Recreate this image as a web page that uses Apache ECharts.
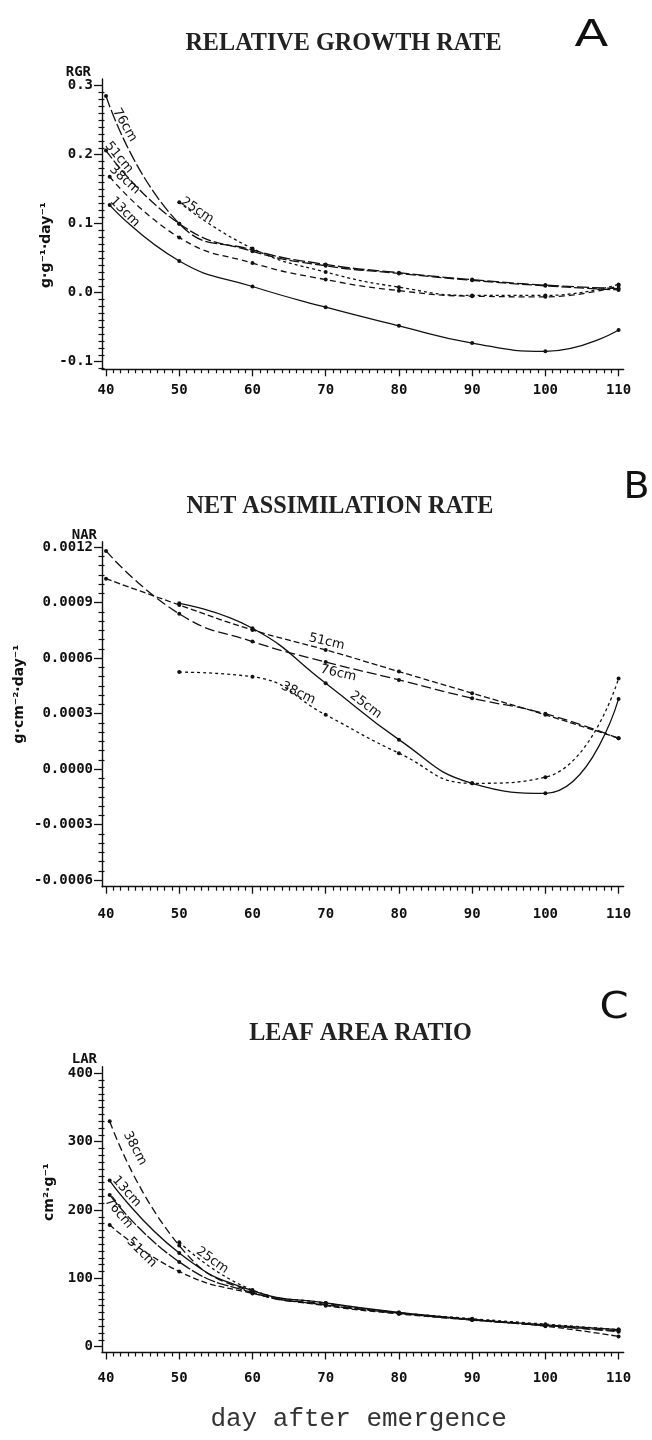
<!DOCTYPE html>
<html><head><meta charset="utf-8">
<script src="https://cdn.jsdelivr.net/npm/echarts@6/dist/echarts.min.js"></script>
<style>html,body{margin:0;padding:0;background:#fff}#c{width:652px;height:1440px}</style>
</head><body><div id="c"></div>
<script>
// ---------- data ----------
const seriesNames = ['13cm', '25cm', '38cm', '51cm', '76cm'];
const dayTicks = [40, 50, 60, 70, 80, 90, 100, 110];
const daysFrom40 = [40, 50, 60, 70, 80, 90, 100, 110];
const daysFrom405 = [40.5, 50, 60, 70, 80, 90, 100, 110];
const daysFrom50 = [50, 60, 70, 80, 90, 100, 110];

// A: relative growth rate
const rgrTicks = [-0.1, 0, 0.1, 0.2, 0.3];
const rgr13 = [0.127, 0.046, 0.009, -0.021, -0.048, -0.073, -0.085, -0.054];
const rgr25 = [0.131, 0.064, 0.030, 0.008, -0.004, -0.004, 0.012];
const rgr38 = [0.168, 0.080, 0.043, 0.019, 0.003, -0.005, -0.006, 0.010];
const rgr51 = [0.206, 0.100, 0.060, 0.039, 0.028, 0.018, 0.010, 0.004];
const rgr76 = [0.285, 0.100, 0.062, 0.041, 0.029, 0.019, 0.011, 0.006];

// B: net assimilation rate
const narTicks = [-0.0006, -0.0003, 0, 0.0003, 0.0006, 0.0009, 0.0012];
const nar25 = [0.000897, 0.000762, 0.000465, 0.00016, -0.000076, -0.00013, 0.00038];
const nar38 = [0.000525, 0.0005, 0.000294, 0.000087, -0.000076, -0.000043, 0.00049];
const nar51 = [0.00103, 0.000888, 0.000753, 0.000645, 0.000528, 0.000411, 0.000294, 0.000168];
const nar76 = [0.00118, 0.00084, 0.00069, 0.00058, 0.000483, 0.000384, 0.0003, 0.000167];

// C: leaf area ratio
const larTicks = [0, 100, 200, 300, 400];
const lar13 = [243, 137, 82, 64, 50, 40, 32, 25];
const lar25 = [153, 83, 64, 50, 41, 33, 25];
const lar38 = [330, 148, 80, 62, 49, 40, 31, 22];
const lar51 = [178, 110, 78, 60, 48, 39, 30, 15];
const lar76 = [222, 124, 79, 61, 49, 39, 31, 23];

// ---------- minor tick positions (axis decoration) ----------
const dayMinor = []; for (let d = 40; d <= 110; d++) if (d % 10) dayMinor.push(d);
const rgrMinor = []; for (let k = -11; k <= 30; k++) if (k % 10) rgrMinor.push(k / 100);
const narMinor = []; for (let k = -12; k <= 24; k++) if (k % 6) narMinor.push(+(k * 0.00005).toFixed(6));
const larMinor = []; for (let k = 0; k <= 40; k++) if (k % 10) larMinor.push(k * 10);

// ---------- styles / layout ----------
const INK = '#111';
const tickFont = {fontFamily: '"DejaVu Sans Mono"', fontWeight: 'bold', fontSize: 14, color: INK};
const panels = [
  {grid: {left: 102, right: 28.3, top: 79, height: 290.3}, ymin: -0.111, ymax: 0.3097,
   ticks: rgrTicks, minor: rgrMinor, fmt: v => v.toFixed(1), xMargin: 14, yMargin: 9},
  {grid: {left: 102, right: 28.3, top: 541.7, height: 345}, ymin: -0.000635, ymax: 0.00123,
   ticks: narTicks, minor: narMinor, fmt: v => v.toFixed(4), xMargin: 21, yMargin: 9},
  {grid: {left: 102, right: 28.3, top: 1066.7, height: 285.8}, ymin: -8.5, ymax: 409.7,
   ticks: larTicks, minor: larMinor, fmt: v => String(v), xMargin: 19, yMargin: 9}
];
const XMIN = 39.45, XMAX = 110.7;

const grids = [], xAxes = [], yAxes = [];
panels.forEach((p, i) => {
  grids.push(p.grid);
  xAxes.push({type: 'value', gridIndex: i, position: 'bottom', min: XMIN, max: XMAX,
    axisLine: {show: true, onZero: false, lineStyle: {color: INK, width: 1.4}},
    axisTick: {show: true, customValues: dayTicks, length: 7, lineStyle: {color: INK, width: 1.3}},
    axisLabel: {show: true, customValues: dayTicks, margin: p.xMargin, ...tickFont},
    splitLine: {show: false}});
  xAxes.push({type: 'value', gridIndex: i, position: 'bottom', min: XMIN, max: XMAX,
    axisLine: {show: false, onZero: false},
    axisTick: {show: true, customValues: dayMinor, length: 4, lineStyle: {color: INK, width: 1.2}},
    axisLabel: {show: false}, splitLine: {show: false}});
  yAxes.push({type: 'value', gridIndex: i, position: 'left', min: p.ymin, max: p.ymax,
    axisLine: {show: true, onZero: false, lineStyle: {color: INK, width: 1.4}},
    axisTick: {show: true, customValues: p.ticks, length: 8, lineStyle: {color: INK, width: 1.3}},
    axisLabel: {show: true, customValues: p.ticks, formatter: p.fmt, margin: p.yMargin, ...tickFont},
    splitLine: {show: false}});
  yAxes.push({type: 'value', gridIndex: i, position: 'left', min: p.ymin, max: p.ymax,
    axisLine: {show: false, onZero: false},
    axisTick: {show: true, customValues: p.minor, length: 3.5, lineStyle: {color: INK, width: 1.2}},
    axisLabel: {show: false}, splitLine: {show: false}});
  yAxes.push({type: 'value', gridIndex: i, position: 'left', min: p.ymin, max: p.ymax,
    axisLine: {show: false, onZero: false},
    axisTick: {show: true, inside: true, customValues: p.minor, length: 2.5, lineStyle: {color: INK, width: 1.2}},
    axisLabel: {show: false}, splitLine: {show: false}});
});

const SYM = 4;
function line(panel, name, days, vals, dash, lab) {
  return {
    type: 'line', name, xAxisIndex: panel * 2, yAxisIndex: panel * 3,
    smooth: 0.5, symbol: 'circle', symbolSize: SYM, silent: true, z: 3,
    lineStyle: {color: INK, width: 1.3, type: dash},
    itemStyle: {color: INK, borderWidth: 0},
    emphasis: {disabled: true},
    data: days.map((d, k) => {
      const item = {value: [d, vals[k]]};
      if (lab && lab.idx === k) {
        item.label = {show: true, formatter: name, position: [lab.d[0] + SYM / 2, lab.d[1] + SYM / 2],
          align: 'center', verticalAlign: 'middle', rotate: lab.rot,
          fontFamily: '"DejaVu Sans"', fontSize: 13, color: INK};
      }
      return item;
    })
  };
}

const series = [
  line(0, '13cm', daysFrom405, rgr13, 'solid', {idx: 0, d: [15, 7], rot: -45}),
  line(0, '25cm', daysFrom50, rgr25, [3, 3], {idx: 0, d: [18, 8], rot: -33}),
  line(0, '38cm', daysFrom405, rgr38, [6, 4], {idx: 0, d: [15, 3], rot: -42}),
  line(0, '51cm', daysFrom40, rgr51, [10, 3], {idx: 0, d: [13, 7], rot: -50}),
  line(0, '76cm', daysFrom40, rgr76, [12, 3], {idx: 0, d: [18.7, 29], rot: -60}),

  line(1, '25cm', daysFrom50, nar25, 'solid', {idx: 2, d: [40, 21.7], rot: -37}),
  line(1, '38cm', daysFrom50, nar38, [3, 3], {idx: 2, d: [-27.4, -21.7], rot: -25}),
  line(1, '51cm', daysFrom40, nar51, [6, 3], {idx: 3, d: [1, -8], rot: -13}),
  line(1, '76cm', daysFrom40, nar76, [10, 4], {idx: 3, d: [12.6, 11.4], rot: -13}),

  line(2, '13cm', daysFrom405, lar13, 'solid', {idx: 0, d: [17, 11], rot: -48}),
  line(2, '25cm', daysFrom50, lar25, [3, 3], {idx: 0, d: [33, 18.3], rot: -35}),
  line(2, '38cm', daysFrom405, lar38, [8, 4], {idx: 0, d: [25.3, 27.2], rot: -62}),
  line(2, '51cm', daysFrom405, lar51, [6, 3], {idx: 0, d: [32, 27.5], rot: -45}),
  line(2, '76cm', daysFrom405, lar76, [12, 2], {idx: 0, d: [9, 18], rot: -50})
];

function txt(x, y, text, font, opts) {
  opts = opts || {};
  return {type: 'text', x, y, silent: true, rotation: opts.rotation || 0,
    scaleX: opts.sx || 1,
    style: {text, font, fill: opts.fill || INK, textAlign: opts.align || 'center', textVerticalAlign: 'middle'}};
}
const titleFont = 'bold 26px "Liberation Serif"';
const letterFont = '38px "DejaVu Sans"';
const nameFont = 'bold 14px "DejaVu Sans Mono"';
const unitFont = 'bold 14px "DejaVu Sans"';
const graphic = [
  txt(343.5, 43, 'RELATIVE GROWTH RATE', titleFont, {sx: 0.93, fill: '#222'}),
  txt(340, 506, 'NET ASSIMILATION RATE', titleFont, {sx: 0.93, fill: '#222'}),
  txt(360.5, 1033, 'LEAF AREA RATIO', titleFont, {sx: 0.93, fill: '#222'}),
  txt(591.5, 36, 'A', letterFont, {sx: 1.3}),
  txt(636.5, 488, 'B', letterFont, {sx: 1.0}),
  txt(614, 1008, 'C', letterFont, {sx: 1.1}),
  txt(91, 72, 'RGR', nameFont, {align: 'right'}),
  txt(97, 535, 'NAR', nameFont, {align: 'right'}),
  txt(97, 1059, 'LAR', nameFont, {align: 'right'}),
  txt(46, 245, 'g·g⁻¹·day⁻¹', unitFont, {rotation: Math.PI / 2}),
  txt(19, 694, 'g·cm⁻²·day⁻¹', unitFont, {rotation: Math.PI / 2}),
  txt(49, 1192, 'cm²·g⁻¹', unitFont, {rotation: Math.PI / 2}),
  txt(358.6, 1419, 'day after emergence', '26px "Liberation Mono"', {fill: '#333'})
];

const chart = echarts.init(document.getElementById('c'), null, {renderer: 'canvas'});
chart.setOption({
  animation: false,
  backgroundColor: '#fff',
  grid: grids, xAxis: xAxes, yAxis: yAxes,
  series, graphic
});
</script>
</body></html>
